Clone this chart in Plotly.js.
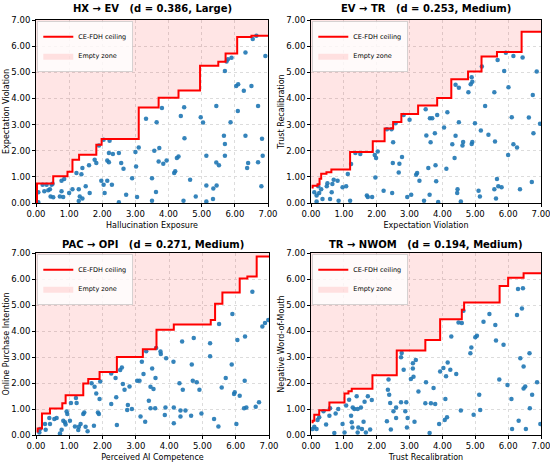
<!DOCTYPE html>
<html>
<head>
<meta charset="utf-8">
<script src="https://cdn.plot.ly/plotly-3.0.1.min.js"></script>
<style>html,body{margin:0;padding:0;background:#fff;}#chart{width:550px;height:464px;}</style>
</head>
<body>
<div id="chart"></div>
<script>
// ---------- Panel 1: HX -> EV ----------
const hxEvX = [0.07,0.07,0.2,0.32,0.47,0.25,0.37,0.42,0.44,0.52,0.5,0.72,0.77,0.77,0.85,0.82,1.0,1.1,1.22,1.29,1.32,1.29,1.4,1.4,1.37,1.5,1.6,1.62,1.77,1.82,1.9,1.97,2.04,2.04,2.07,2.15,2.15,2.2,2.2,2.22,2.29,2.32,2.5,2.5,2.57,2.64,2.72,2.9,3.0,3.02,3.05,3.1,3.32,3.5,3.5,3.57,3.62,3.64,3.7,3.72,3.8,3.84,3.94,4.17,4.2,4.25,4.3,4.37,4.45,4.47,4.48,4.65,4.82,4.97,5.04,5.14,5.14,5.14,5.34,5.35,5.44,5.44,5.45,5.52,5.67,5.7,5.7,5.7,5.75,5.79,5.9,5.87,6.04,6.1,6.09,6.27,6.32,6.32,6.37,6.4,6.5,6.54,6.65,6.7,6.7,6.8,6.82,6.84,6.92];
const hxEvY = [0.41,0.03,0.7,0.7,0.7,0.45,0.49,0.53,0.25,0.22,0.74,0.25,0.45,0.85,0.92,0.23,0.38,0.53,1.15,0.53,0.25,0.08,0.17,1.34,1.1,0.64,1.44,0.38,1.65,1.53,2.2,0.85,0.7,2.42,0.38,1.63,0.85,1.91,1.56,2.38,0.7,1.87,0.03,1.91,1.53,1.31,0.32,0.95,1.95,1.4,0.23,2.12,3.22,0.95,0.09,2.0,0.42,3.09,1.59,2.1,3.63,1.5,1.63,1.15,1.21,1.72,1.78,3.33,0.09,3.66,2.48,0.89,0.25,3.28,3.08,1.81,0.67,0.06,0.15,0.55,3.71,1.55,0.67,1.44,2.57,2.26,5.05,1.81,5.41,5.5,5.56,3.09,4.48,4.54,3.52,4.29,5.76,2.57,1.34,1.53,4.48,6.27,6.4,3.71,1.56,0.64,2.46,1.81,5.62];
const hxEvCeilX = [0.03,0.03,0.52,0.95,1.1,1.3,1.82,1.98,3.1,3.7,4.3,4.95,5.5,5.72,6.07,6.5,7.0];
const hxEvCeilY = [0,0.75,1.02,1.2,1.65,1.85,2.23,2.45,3.65,4.03,4.3,5.25,5.4,5.72,6.35,6.4,6.4];

// ---------- Panel 2: EV -> TR ----------
const evTrX = [0.1,0.17,0.17,0.22,0.25,0.31,0.35,0.48,0.5,0.58,0.63,0.65,0.69,0.81,0.84,0.96,1.07,1.12,1.19,1.22,1.35,1.5,1.7,1.73,1.86,1.94,1.96,1.98,2.03,2.21,2.31,2.45,2.47,2.49,2.5,2.57,2.67,2.69,2.77,2.82,2.93,3.0,3.05,3.2,3.23,3.3,3.44,3.49,3.51,3.57,3.61,3.62,3.64,3.69,3.77,3.79,3.81,3.84,3.87,4.05,4.12,4.15,4.3,4.37,4.4,4.4,4.45,4.46,4.5,4.5,4.56,4.61,4.63,4.79,4.86,4.89,4.91,4.89,4.91,4.99,5.1,5.14,5.17,5.2,5.3,5.4,5.58,5.58,5.6,5.63,5.66,5.7,5.68,5.8,5.88,5.93,6.0,6.01,6.11,6.16,6.16,6.27,6.36,6.44,6.63,6.72,6.75,6.77,6.87,6.97];
const evTrY = [0.41,0.29,0.06,0.64,0.38,0.53,0.15,0.64,0.76,0.15,0.41,0.73,0.89,0.85,0.09,0.6,0.64,1.11,0.09,1.49,1.91,1.87,0.29,0.23,0.23,1.84,0.98,1.72,1.97,0.47,2.82,2.82,0.38,1.53,2.32,3.05,1.17,1.5,1.76,3.37,0.23,3.18,0.32,1.08,1.15,0.85,0.09,3.59,2.58,1.34,0.32,3.24,2.32,3.24,2.67,1.44,0.83,3.37,0.04,2.89,1.31,3.47,2.25,1.72,2.57,4.52,0.38,0.53,4.41,3.09,0.06,2.2,2.33,4.24,4.54,4.81,4.64,2.26,2.33,3.05,0.47,0.25,2.77,5.22,3.71,2.61,0.53,4.24,2.35,0.17,0.92,0.64,5.47,0.6,5.05,5.75,1.84,4.43,3.28,5.62,2.25,2.12,0.53,5.57,3.27,0.8,4.13,2.67,5.03,3.03];
const evTrCeilX = [0.05,0.05,0.2,0.26,0.31,0.47,0.62,1.19,1.88,2.24,2.5,2.75,3.26,3.84,4.27,4.78,5.19,5.66,6.41,7.0];
const evTrCeilY = [0.55,0.66,0.72,0.93,1.12,1.18,1.28,1.95,2.36,2.85,3.1,3.4,3.73,4.02,4.73,5.03,5.6,5.78,6.55,6.55];

// ---------- Panel 3: PAC -> OPI ----------
const pacOpiX = [0.1,0.12,0.27,0.29,0.4,0.42,0.55,0.62,0.72,0.77,0.82,0.87,0.89,0.92,0.94,1.02,1.05,1.17,1.2,1.22,1.27,1.29,1.34,1.42,1.45,1.49,1.55,1.67,1.74,1.76,1.81,1.86,1.89,1.91,1.93,2.26,2.26,2.39,2.41,2.43,2.53,2.58,2.61,2.66,2.74,2.76,2.81,2.88,3.04,3.11,3.14,3.18,3.23,3.28,3.31,3.39,3.44,3.44,3.49,3.53,3.58,3.59,3.61,3.74,3.75,3.91,3.87,3.89,4.13,4.14,4.14,4.31,4.34,4.34,4.39,4.41,4.49,4.66,4.68,4.71,4.74,4.83,4.91,4.97,5.23,5.23,5.35,5.48,5.5,5.58,5.7,5.88,5.9,5.95,5.97,6.02,6.05,6.12,6.25,6.27,6.28,6.32,6.5,6.6,6.7,6.8,6.88,6.98];
const pacOpiY = [0.1,0.23,0.42,0.2,0.65,0.42,0.62,0.65,0.06,0.2,0.55,0.49,0.4,0.9,0.81,0.55,1.23,0.33,1.42,1.23,0.19,0.32,0.42,0.81,0.87,0.32,0.14,1.99,0.36,1.86,1.6,0.87,0.81,1.38,2.06,2.37,1.19,2.19,1.45,0.38,2.5,2.6,1.96,1.74,0.96,1.15,1.87,1.0,2.09,2.09,0.71,2.82,2.35,0.51,3.22,1.32,1.86,1.03,2.56,1.77,1.03,2.19,3.35,3.21,3.12,2.95,0.77,1.06,2.82,1.06,0.45,1.99,0.71,0.94,3.6,1.74,0.94,0.74,2.71,2.09,3.73,2.03,1.74,0.83,3.53,3.03,0.62,0.33,4.27,1.83,2.19,2.71,4.65,1.58,1.64,0.42,3.65,1.51,1.03,2.09,3.79,1.06,5.51,1.09,1.26,4.17,4.31,4.42];
const pacOpiCeilX = [0.05,0.05,0.18,0.42,0.79,0.89,1.42,1.57,1.91,2.43,3.21,3.59,3.62,4.14,5.25,5.38,5.6,6.12,6.35,6.63,7.0];
const pacOpiCeilY = [0.1,0.25,0.83,1.02,1.22,1.53,1.98,2.15,2.42,3.0,3.3,3.37,4.05,4.25,4.42,5.05,5.48,6.02,6.1,6.87,6.87];

// ---------- Panel 4: TR -> NWOM ----------
const trNwomX = [0.05,0.1,0.17,0.2,0.25,0.38,0.46,0.56,0.58,0.71,0.75,0.83,0.96,1.02,1.07,1.16,1.22,1.24,1.26,1.27,1.32,1.39,1.42,1.42,1.44,1.52,1.55,1.6,1.63,1.67,1.73,1.8,1.85,2.31,2.34,2.36,2.38,2.41,2.43,2.51,2.59,2.59,2.74,2.74,2.76,2.82,2.87,2.9,2.92,2.94,3.04,3.1,3.1,3.12,3.15,3.19,3.27,3.48,3.5,3.61,3.65,3.73,3.78,3.9,3.93,4.03,4.07,4.09,4.11,4.14,4.16,4.24,4.27,4.42,4.49,4.56,4.59,4.64,4.85,4.88,4.95,5.0,5.05,5.12,5.15,5.25,5.43,5.61,5.63,5.73,5.86,5.98,6.1,6.12,6.27,6.3,6.32,6.37,6.42,6.45,6.47,6.47,6.52,6.54,6.66,6.65,6.73,6.88,6.98];
const trNwomY = [0.23,0.32,0.23,0.58,0.68,0.91,0.4,0.74,1.03,0.08,0.83,1.0,0.42,0.1,1.13,1.36,0.74,0.49,0.29,1.06,1.0,1.49,1.0,0.1,0.29,1.06,0.23,0.51,1.28,0.1,1.49,0.21,1.35,0.53,1.74,2.13,1.55,1.23,0.21,0.91,1.06,0.65,1.26,2.99,3.15,2.51,0.91,1.26,0.29,0.65,2.15,2.76,2.56,2.24,0.51,2.88,1.67,1.22,2.03,0.08,1.22,1.81,1.19,0.42,2.44,2.58,0.58,1.38,2.26,0.68,2.79,2.51,3.79,2.35,4.33,0.94,4.31,4.78,3.14,3.37,0.78,3.76,3.82,1.55,0.96,4.36,4.65,4.23,3.63,2.13,3.47,1.92,1.38,0.23,4.62,5.62,0.55,2.95,4.87,5.64,2.63,1.79,1.87,0.23,1.03,3.14,1.55,2.03,0.42];
const trNwomCeilX = [0.05,0.05,0.1,0.25,0.56,1.02,1.14,1.24,1.87,2.61,3.48,3.93,4.59,4.66,5.74,6.0,6.47,7.0];
const trNwomCeilY = [0.45,0.55,0.78,0.95,1.25,1.6,1.68,1.78,2.3,3.25,3.65,4.45,4.82,5.1,5.73,6.05,6.22,6.22];

// ---------- Labels ----------
const panelTitles = [
  'HX → EV\u00a0\u00a0 (d = 0.386, Large)',
  'EV → TR\u00a0\u00a0 (d = 0.253, Medium)',
  'PAC → OPI\u00a0\u00a0 (d = 0.271, Medium)',
  'TR → NWOM\u00a0\u00a0 (d = 0.194, Medium)'
];
const xLabels = ['Hallucination Exposure','Expectation Violation','Perceived AI Competence','Trust Recalibration'];
const yLabels = ['Expectation Violation','Trust Recalibration','Online Purchase Intention','Negative Word-of-Mouth'];
const tickVals = [0,1,2,3,4,5,6,7];
const tickText = ['0.00','1.00','2.00','3.00','4.00','5.00','6.00','7.00'];
const legendNames = ['CE-FDH ceiling','Empty zone'];

const panels = [
  {x: hxEvX, y: hxEvY, cx: hxEvCeilX, cy: hxEvCeilY},
  {x: evTrX, y: evTrY, cx: evTrCeilX, cy: evTrCeilY},
  {x: pacOpiX, y: pacOpiY, cx: pacOpiCeilX, cy: pacOpiCeilY},
  {x: trNwomX, y: trNwomY, cx: trNwomCeilX, cy: trNwomCeilY}
];

const W = 550, H = 464;
const xDomains = [[36/W, 268/W],[311/W, 541/W],[36/W, 269/W],[311/W, 541/W]];
const yDomains = [[1-203/H, 1-20/H],[1-203/H, 1-20/H],[1-435/H, 1-253/H],[1-435/H, 1-253/H]];
const titleY = [1-9/H, 1-9/H, 1-244/H, 1-244/H];

const FONT = 'DejaVu Sans, Arial, sans-serif';
const traces = [];
const layout = {
  width: W, height: H,
  margin: {l:0, r:0, t:0, b:0},
  paper_bgcolor: '#fff', plot_bgcolor: '#fff',
  font: {family: FONT, color: '#000', size: 8},
  annotations: [],
  showlegend: true
};

panels.forEach((p, i) => {
  const n = i + 1;
  const xa = n === 1 ? 'x' : 'x' + n;
  const ya = n === 1 ? 'y' : 'y' + n;
  const lg = n === 1 ? 'legend' : 'legend' + n;
  const yMax = 7;
  const fx = p.cx.concat([yMax, 0, 0]);
  const fy = p.cy.concat([yMax, yMax, p.cy[0]]);
  traces.push({
    type: 'scatter', mode: 'lines', x: fx, y: fy, xaxis: xa, yaxis: ya,
    line: {shape: 'hv', width: 0, color: 'rgba(0,0,0,0)'},
    fill: 'toself', fillcolor: 'rgba(255,0,0,0.1)',
    name: legendNames[1], legend: lg, legendrank: 2, hoverinfo: 'skip'
  });
  traces.push({
    type: 'scatter', mode: 'markers', x: p.x, y: p.y, xaxis: xa, yaxis: ya,
    marker: {color: '#1f77b4', size: 4.5, opacity: 0.9},
    showlegend: false, legend: lg
  });
  traces.push({
    type: 'scatter', mode: 'lines', x: p.cx, y: p.cy, xaxis: xa, yaxis: ya,
    line: {shape: 'hv', width: 2, color: '#ff0000'},
    name: legendNames[0], legend: lg, legendrank: 1
  });

  const axCommon = {
    range: [0, 7], tickvals: tickVals, ticktext: tickText,
    showline: true, mirror: true, linecolor: '#000', linewidth: 1,
    ticks: 'outside', ticklen: 3, tickcolor: '#000', tickwidth: 1,
    showgrid: true, gridcolor: '#dcdcdc', griddash: 'dot', gridwidth: 1,
    zeroline: false, tickfont: {size: 8.5, family: FONT},
    ticklabeloverflow: 'allow',
    fixedrange: true
  };
  layout[n === 1 ? 'xaxis' : 'xaxis' + n] = Object.assign({}, axCommon, {
    domain: xDomains[i], anchor: ya,
    title: {text: xLabels[i], font: {size: 8, family: FONT}, standoff: 4}
  });
  layout[n === 1 ? 'yaxis' : 'yaxis' + n] = Object.assign({}, axCommon, {
    domain: yDomains[i], anchor: xa,
    title: {text: yLabels[i], font: {size: 8, family: FONT}, standoff: 0}
  });
  layout[lg] = {
    x: xDomains[i][0] + 1.5/W, y: yDomains[i][1] - 1.5/H,
    xanchor: 'left', yanchor: 'top',
    bgcolor: 'rgba(255,255,255,0.8)', bordercolor: '#cccccc', borderwidth: 0.8,
    font: {size: 6.5, family: FONT}, itemwidth: 30, tracegroupgap: 0
  };
  layout.annotations.push({
    text: '<b>' + panelTitles[i] + '</b>', showarrow: false,
    xref: 'paper', yref: 'paper',
    x: (xDomains[i][0] + xDomains[i][1]) / 2, y: titleY[i],
    xanchor: 'center', yanchor: 'middle',
    font: {size: 10, family: FONT, color: '#000'}
  });
});

Plotly.newPlot('chart', traces, layout, {displayModeBar: false, staticPlot: true});
</script>
</body>
</html>
